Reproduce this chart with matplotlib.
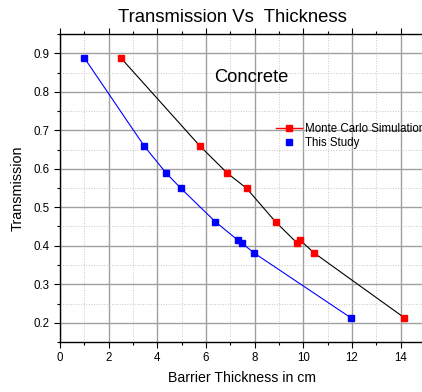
import matplotlib.pyplot as plt
from matplotlib.lines import Line2D
from matplotlib.ticker import MultipleLocator

plt.rcParams['font.family'] = ['Liberation Sans', 'DejaVu Sans']

# data
mc_x = [2.5, 5.75, 6.87, 7.67, 8.86, 9.76, 9.86, 10.45, 14.15]
mc_y = [0.888, 0.659, 0.589, 0.549, 0.462, 0.406, 0.415, 0.381, 0.213]
study_x = [1.0, 3.46, 4.36, 4.97, 6.39, 7.3, 7.49, 7.98, 11.95]
study_y = [0.888, 0.659, 0.589, 0.549, 0.462, 0.415, 0.406, 0.381, 0.213]

fig = plt.figure(figsize=(4.22, 3.92), dpi=100)
ax = fig.add_axes([60 / 422, 1 - 342 / 392, 365 / 422, 308 / 392])

ax.plot(mc_x, mc_y, color='black', lw=0.8, zorder=3)
ax.plot(mc_x, mc_y, ls='none', marker='s', ms=5, color='red', zorder=4)
ax.plot(study_x, study_y, color='blue', lw=0.8, zorder=3)
ax.plot(study_x, study_y, ls='none', marker='s', ms=5, color='blue', zorder=4)

ax.set_xlim(0, 15)
ax.set_ylim(0.15, 0.95)
ax.xaxis.set_major_locator(MultipleLocator(2))
ax.xaxis.set_minor_locator(MultipleLocator(1))
ax.yaxis.set_major_locator(MultipleLocator(0.1))
ax.yaxis.set_minor_locator(MultipleLocator(0.05))
ax.set_xticks([0, 2, 4, 6, 8, 10, 12, 14])
ax.set_yticks([0.2, 0.3, 0.4, 0.5, 0.6, 0.7, 0.8, 0.9])

ax.grid(which='major', color='#a0a0a0', lw=1.0, zorder=0)
ax.grid(which='minor', color='#c8c8c8', lw=0.7, ls=':', zorder=0)
ax.tick_params(which='both', direction='out', labelsize=8.3, top=True, width=0.8)
ax.tick_params(which='major', length=4)
ax.tick_params(which='minor', length=2.5)
ax.tick_params(axis='x', top=True, labeltop=False)
for s in ax.spines.values():
    s.set_linewidth(1.0)

ax.set_xlabel('Barrier Thickness in cm', fontsize=10.2, labelpad=5)
ax.set_ylabel('Transmission', fontsize=10.4, labelpad=6)
fig.text(232 / 422, 1 - 17 / 392, 'Transmission Vs  Thickness', fontsize=13.3,
         ha='center', va='center')
ax.text(7.86, 0.8375, 'Concrete', fontsize=13.2, ha='center', va='center')

handles = [
    Line2D([], [], color='red', lw=1, marker='s', ms=5),
    Line2D([], [], color='blue', ls='none', marker='s', ms=5),
]
ax.legend(handles, ['Monte Carlo Simulation', 'This Study'], frameon=False,
          fontsize=8.3, loc='upper left', bbox_to_anchor=(0.578, 0.727),
          handlelength=2.3, handletextpad=0.25, labelspacing=0.2,
          borderaxespad=0)

fig.savefig('out.png', dpi=100)
